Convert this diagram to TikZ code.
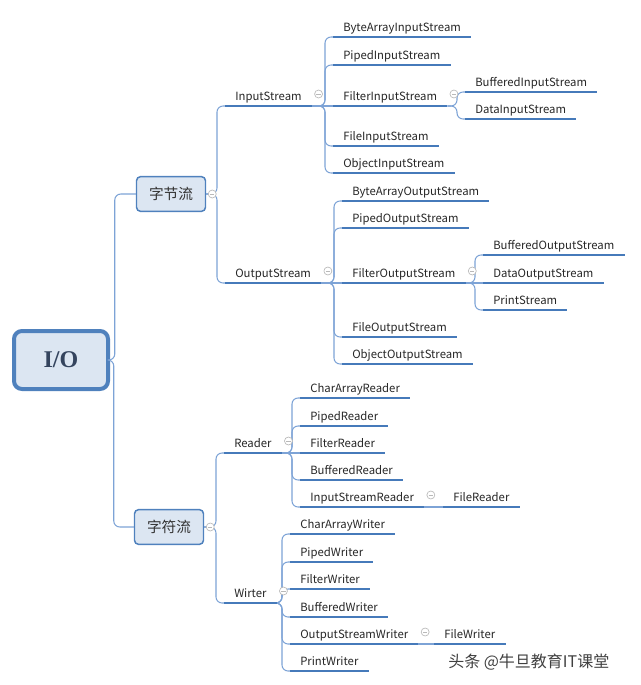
\documentclass[tikz,border=0pt]{standalone}
\usepackage{fontspec}
\setmainfont{Noto Sans CJK SC}
\newfontfamily\rootfont{Liberation Serif}
\usetikzlibrary{positioning}
\definecolor{boxfill}{RGB}{220,230,242}
\definecolor{boxline}{RGB}{79,129,189}
\definecolor{ulblue}{RGB}{70,122,186}
\definecolor{linkblue}{RGB}{125,163,214}
\definecolor{foldgray}{RGB}{185,185,185}
\definecolor{rootink}{RGB}{52,68,94}

\begin{document}
\begin{tikzpicture}[x=0.75pt, y=-0.75pt,
    rootbox/.style={rectangle, draw=boxline, line width=3pt, fill=boxfill, rounded corners=6pt,
                    minimum width=70.5pt, minimum height=43.5pt,
                    font=\rootfont\bfseries\fontsize{18}{20}\selectfont, text=rootink},
    groupbox/.style={rectangle, draw=boxline, line width=1.1pt, fill=boxfill, rounded corners=3pt,
                     minimum width=51.75pt, minimum height=26pt,
                     font=\fontsize{11}{13}\selectfont, text=black!80},
    item/.style={anchor=south west, inner xsep=7.5pt, inner ysep=3.75pt, text height=6.5pt,
                 text depth=0pt, font=\fontsize{8.5}{10}\selectfont, text=black!85},
    underline/.style={line width=1.9pt, ulblue},
    link/.style={linkblue, line width=0.8pt, rounded corners=4.5pt},
    fold/.style={circle, draw=foldgray, fill=white, line width=0.5pt, inner sep=0pt, minimum size=6pt,
                 path picture={\draw[foldgray, line width=0.5pt]
                     ([xshift=-1.6pt]path picture bounding box.center) --
                     ([xshift=1.6pt]path picture bounding box.center);}}
]
\useasboundingbox (0,0) rectangle (640,685);

% root and the two groups
\node (root) [rootbox] at (61,360) {I/O};
\node (byte) [groupbox] at (171,194) {字节流};
\node (char) [groupbox] at (169,527) {字符流};

% second level
\node (is) [item] at (225,106) {InputStream};
\node (os) [item] at (225,283) {OutputStream};
\node (rd) [item] at (224,453) {Reader};
\node (wr) [item] at (224,603) {Wirter};

% InputStream
\node (bais)   [item] at (333,37)  {ByteArrayInputStream};
\node (pis)    [item] at (333,65)  {PipedInputStream};
\node (fis)    [item] at (333,106) {FilterInputStream};
\node (fileis) [item] at (333,146) {FileInputStream};
\node (ois)    [item] at (333,173) {ObjectInputStream};
\node (bis)    [item] at (465,92)  {BufferedInputStream};
\node (dis)    [item] at (465,119) {DataInputStream};

% OutputStream
\node (baos)   [item] at (342,201) {ByteArrayOutputStream};
\node (pos)    [item] at (342,228) {PipedOutputStream};
\node (fos)    [item] at (342,283) {FilterOutputStream};
\node (fileos) [item] at (342,337) {FileOutputStream};
\node (oos)    [item] at (342,364) {ObjectOutputStream};
\node (bos)    [item] at (483,255) {BufferedOutputStream};
\node (dos)    [item] at (483,283) {DataOutputStream};
\node (ps)     [item] at (483,310) {PrintStream};

% Reader
\node (card)   [item] at (300,398) {CharArrayReader};
\node (prd)    [item] at (300,426) {PipedReader};
\node (frd)    [item] at (300,453) {FilterReader};
\node (brd)    [item] at (300,480) {BufferedReader};
\node (isr)    [item] at (300,507) {InputStreamReader};
\node (filerd) [item] at (443,507) {FileReader};

% Writer
\node (caw)    [item] at (290,534) {CharArrayWriter};
\node (pw)     [item] at (290,562) {PipedWriter};
\node (fw)     [item] at (290,589) {FilterWriter};
\node (bw)     [item] at (290,617) {BufferedWriter};
\node (osw)    [item] at (290,644) {OutputStreamWriter};
\node (prw)    [item] at (290,671) {PrintWriter};
\node (filew)  [item] at (434,644) {FileWriter};

% connectors
\draw [link] (root.east) -| ([xshift=-15.75pt]byte.west) -- (byte.west);
\draw [link] (root.east) -| ([xshift=-15pt]char.west) -- (char.west);
\foreach \p/\c in {byte/is, byte/os, char/rd, char/wr}
    \draw [link] (\p.east) -| ([xshift=-6pt]\c.south west) -- (\c.south west);
\foreach \p/\c in {is/bais, is/pis, is/fileis, is/ois, fis/bis, fis/dis,
                   os/baos, os/pos, os/fileos, os/oos, fos/bos, fos/ps,
                   rd/card, rd/prd, rd/brd, rd/isr,
                   wr/caw, wr/pw, wr/fw, wr/bw, wr/osw, wr/prw}
    \draw [link] (\p.south east) -| ([xshift=-6pt]\c.south west) -- (\c.south west);
\foreach \p/\c in {is/fis, os/fos, fos/dos, rd/frd, isr/filerd, osw/filew}
    \draw [link] (\p.south east) -- (\c.south west);

% underlines
\foreach \n in {is, os, rd, wr, bais, pis, fis, fileis, ois, bis, dis,
                baos, pos, fos, fileos, oos, bos, dos, ps,
                card, prd, frd, brd, isr, filerd,
                caw, pw, fw, bw, osw, prw, filew}
    \draw [underline] (\n.south west) -- (\n.south east);

% fold marks
\node [fold] at ([xshift=4.5pt]byte.east) {};
\node [fold] at ([xshift=4.5pt]char.east) {};
\foreach \n in {is, os, fis, fos, rd, wr, isr, osw}
    \node [fold] at ([xshift=5pt,yshift=9pt]\n.south east) {};

\node (mark) [anchor=west, font=\fontsize{12}{14}\selectfont, text=black!75, inner sep=0pt]
    at (448,662) {头条 @牛旦教育IT课堂};
\end{tikzpicture}
\end{document}
